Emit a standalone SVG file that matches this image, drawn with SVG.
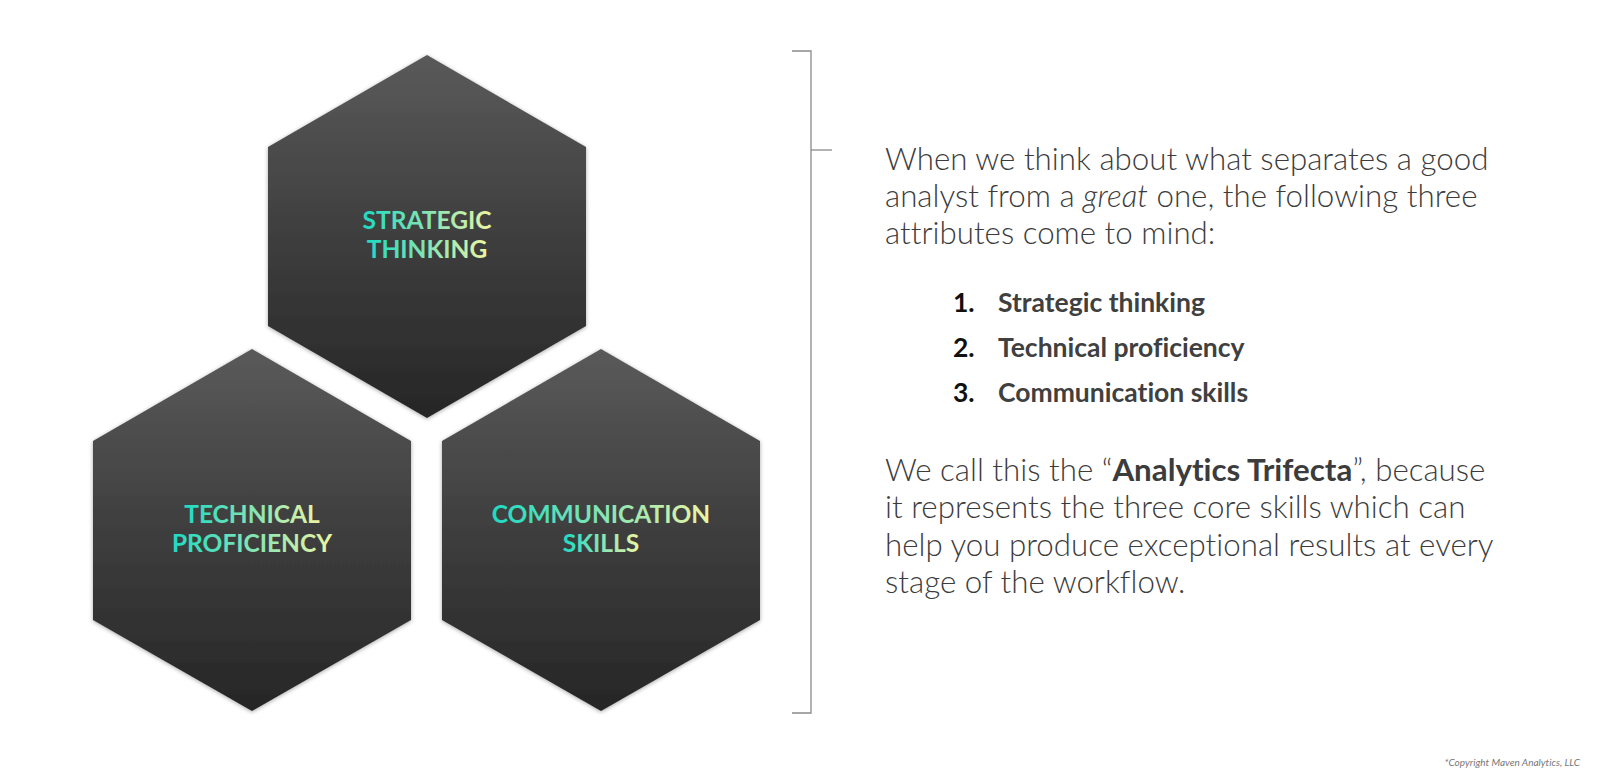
<svg xmlns="http://www.w3.org/2000/svg" width="1600" height="777" viewBox="0 0 1600 777">
<defs>
<linearGradient id="hexFill" x1="0" y1="0" x2="0" y2="1">
<stop offset="0" stop-color="#5a5a5a"/>
<stop offset="0.5" stop-color="#3e3e3e"/>
<stop offset="1" stop-color="#262626"/>
</linearGradient>
<linearGradient id="txtGrad" x1="0" y1="0" x2="1" y2="0">
<stop offset="0" stop-color="#1ddac4"/>
<stop offset="0.55" stop-color="#8ee6b4"/>
<stop offset="1" stop-color="#eef4a2"/>
</linearGradient>
<filter id="shadow" x="-10%" y="-10%" width="120%" height="120%">
<feGaussianBlur in="SourceAlpha" stdDeviation="2"/>
<feOffset dx="0" dy="1" result="b"/>
<feComponentTransfer><feFuncA type="linear" slope="0.35"/></feComponentTransfer>
<feMerge><feMergeNode/><feMergeNode in="SourceGraphic"/></feMerge>
</filter>
</defs>
<style>
text{font-variant-ligatures:none;}
.hex{fill:url(#hexFill);filter:url(#shadow);}
.lbl{font-family:Lato,"Liberation Sans",sans-serif;font-weight:700;font-size:24.5px;fill:url(#txtGrad);text-anchor:middle;}
.body{font-family:Lato,"Liberation Sans",sans-serif;font-weight:300;font-size:31.3px;fill:#3c3c3c;}
.num{font-family:Lato,"Liberation Sans",sans-serif;font-weight:700;font-size:26.5px;fill:#111;}
.item{font-family:Lato,"Liberation Sans",sans-serif;font-weight:700;font-size:26.5px;fill:#404040;}
.br{stroke:#8a8a8a;stroke-width:1.3;fill:none;}
</style>
<rect width="1600" height="777" fill="#ffffff"/>
<g id="hex-strategic">
<polygon class="hex" points="427,55 586,147 586,326 427,418 268,326 268,147"/>
<text class="lbl" x="427" y="229">STRATEGIC</text>
<text class="lbl" x="427" y="258">THINKING</text>
</g>
<g id="hex-technical">
<polygon class="hex" points="252,349 411,441 411,620 252,711 93,620 93,441"/>
<text class="lbl" x="252" y="523">TECHNICAL</text>
<text class="lbl" x="252" y="552">PROFICIENCY</text>
</g>
<g id="hex-communication">
<polygon class="hex" points="601,349 760,441 760,620 601,711 442,620 442,441"/>
<text class="lbl" x="601" y="523">COMMUNICATION</text>
<text class="lbl" x="601" y="552">SKILLS</text>
</g>
<g id="connectors">
<polyline class="br" points="792,51 811,51 811,713 792,713"/>
<line class="br" x1="811" y1="150" x2="832" y2="150"/>
</g>
<g id="text-intro">
<text class="body" x="885" y="170">When we think about what separates a good</text>
<text class="body" x="885" y="207">analyst from a <tspan font-style="italic">great</tspan> one, the following three</text>
<text class="body" x="885" y="244">attributes come to mind:</text>
</g>
<g id="list">
<text class="num" x="953" y="312">1.</text><text class="item" x="998" y="312">Strategic thinking</text>
<text class="num" x="953" y="357">2.</text><text class="item" x="998" y="357">Technical proficiency</text>
<text class="num" x="953" y="402">3.</text><text class="item" x="998" y="402">Communication skills</text>
</g>
<g id="text-trifecta">
<text class="body" x="885" y="481">We call this the “<tspan font-weight="700">Analytics Trifecta</tspan>”, because</text>
<text class="body" x="885" y="518">it represents the three core skills which can</text>
<text class="body" x="885" y="556">help you produce exceptional results at every</text>
<text class="body" x="885" y="593">stage of the workflow.</text>
</g>
<text x="1580" y="766" font-family="Lato,'Liberation Sans',sans-serif" font-style="italic" font-size="10" fill="#777" text-anchor="end">*Copyright Maven Analytics, LLC</text>
</svg>
